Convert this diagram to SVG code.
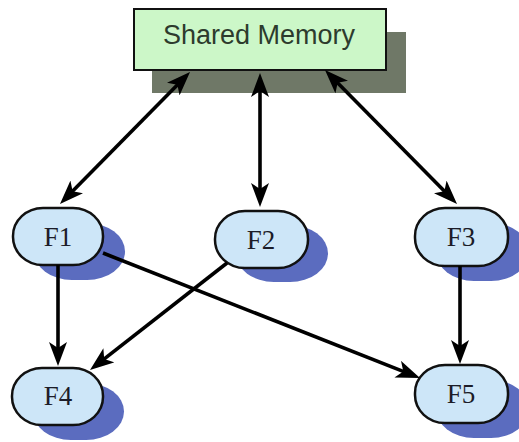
<svg xmlns="http://www.w3.org/2000/svg" width="519" height="442" viewBox="0 0 519 442">
  <style>
    .mem-shadow { fill: #6f7867; }
    .mem-box { fill: #ccf7c8; stroke: #111; stroke-width: 2; }
    .mem-label { font-family: "Liberation Sans", Arial, sans-serif; font-size: 27px; fill: #2d3b2d; text-anchor: middle; }
    .proc-shadow { fill: #5b6cbf; }
    .proc-box { fill: #cde6f8; stroke: #111; stroke-width: 2.5; }
    .proc-label { font-family: "Liberation Serif", "Times New Roman", serif; font-size: 27px; fill: #1c1c28; text-anchor: middle; }
    .link { fill: none; stroke: #000; stroke-width: 3.6; }
  </style>
  <defs>
    <marker id="head" viewBox="0 0 24 18" refX="16" refY="9" markerWidth="24" markerHeight="18" markerUnits="userSpaceOnUse" orient="auto-start-reverse">
      <path d="M0,0 L24,9 L0,18 L6,9 z" fill="#000"/>
    </marker>
  </defs>

  <rect width="519" height="442" fill="#fff"/>

  <g id="shared-memory">
    <rect class="mem-shadow" x="152" y="32" width="254" height="61"/>
    <rect class="mem-box" x="134" y="9" width="252" height="61"/>
    <text class="mem-label" x="259" y="44">Shared Memory</text>
  </g>

  <g id="F1">
    <rect class="proc-shadow" x="34" y="223" width="91" height="57" rx="38" ry="29"/>
    <rect class="proc-box" x="13" y="208" width="90" height="57" rx="30" ry="28"/>
    <text class="proc-label" x="58" y="246">F1</text>
  </g>

  <g id="F2">
    <rect class="proc-shadow" x="236" y="225" width="92" height="57" rx="38" ry="29"/>
    <rect class="proc-box" x="215" y="211" width="93" height="57" rx="30" ry="28"/>
    <text class="proc-label" x="261" y="249">F2</text>
  </g>

  <g id="F3">
    <rect class="proc-shadow" x="436" y="223" width="93" height="58" rx="38" ry="29"/>
    <rect class="proc-box" x="415" y="208" width="93" height="58" rx="30" ry="28"/>
    <text class="proc-label" x="461" y="246">F3</text>
  </g>

  <g id="F4">
    <rect class="proc-shadow" x="33" y="383" width="91" height="57" rx="38" ry="29"/>
    <rect class="proc-box" x="12" y="368" width="91" height="57" rx="30" ry="28"/>
    <text class="proc-label" x="58" y="405">F4</text>
  </g>

  <g id="F5">
    <rect class="proc-shadow" x="436" y="380" width="93" height="58" rx="38" ry="29"/>
    <rect class="proc-box" x="415" y="365" width="93" height="58" rx="30" ry="28"/>
    <text class="proc-label" x="461" y="403">F5</text>
  </g>

  <g id="connectors">
    <!-- shared memory to each upper process, two-way -->
    <line class="link" x1="184.4" y1="77.7" x2="65.6" y2="198.3" marker-start="url(#head)" marker-end="url(#head)"/>
    <line class="link" x1="260" y1="81" x2="260" y2="199" marker-start="url(#head)" marker-end="url(#head)"/>
    <line class="link" x1="330.6" y1="75.7" x2="451.4" y2="198.3" marker-start="url(#head)" marker-end="url(#head)"/>
    <!-- process dependencies -->
    <line class="link" x1="58" y1="265" x2="58" y2="358" marker-end="url(#head)"/>
    <line class="link" x1="460" y1="266" x2="460" y2="356" marker-end="url(#head)"/>
    <line class="link" x1="227" y1="263" x2="96.3" y2="365.1" marker-end="url(#head)"/>
    <line class="link" x1="103" y1="253" x2="412.6" y2="375.1" marker-end="url(#head)"/>
  </g>
</svg>
